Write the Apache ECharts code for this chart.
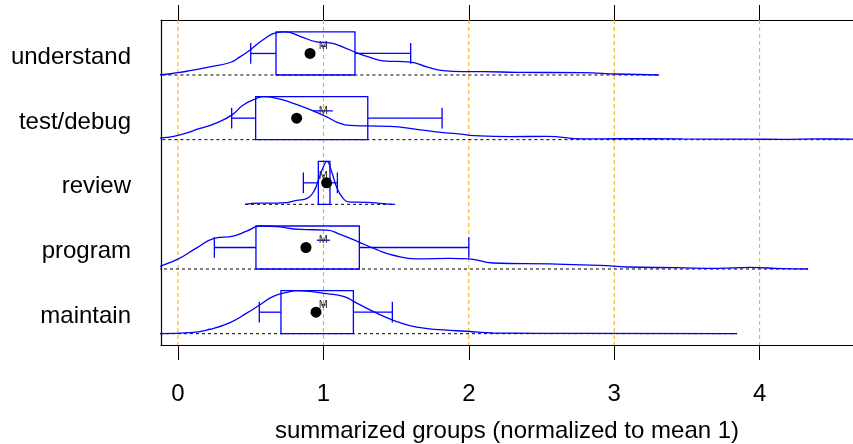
<!DOCTYPE html>
<html><head><meta charset="utf-8">
<script src="https://cdn.jsdelivr.net/npm/echarts@6/dist/echarts.min.js"></script>
<style>html,body{margin:0;padding:0;background:#fff}#c{width:853px;height:444px}</style>
</head><body><div id="c"></div>
<script>
// Groups, bottom to top
const categories = ['maintain', 'program', 'review', 'test/debug', 'understand'];
const xTicks = [0, 1, 2, 3, 4];

// Box statistics (normalized to mean 1)
const q1 = [0.708, 0.536, 0.965, 0.534, 0.674];
const q3 = [1.206, 1.247, 1.045, 1.305, 1.217];
const whiskerLow = [0.559, 0.25, 0.862, 0.369, 0.50];
const whiskerHigh = [1.474, 2.0, 1.096, 1.816, 1.60];
const medians = [0.949, 0.88, 1.022, 0.816, 0.908];
const groupMean = [1, 1, 1, 1, 1];
const meanCiLow = [0.985, 0.955, 0.995, 0.93, 0.98];
const meanCiHigh = [1.015, 1.045, 1.005, 1.065, 1.02];

// Density curves (relative density, peak = 1)
const maintainX = [-0.124, 0.083, 0.22, 0.358, 0.472, 0.564, 0.655, 0.748, 0.816, 0.908, 1.023, 1.137, 1.229, 1.367, 1.504, 1.642, 1.825, 1.986, 2.166, 2.785, 3.845];
const maintainD = [0, 0.023, 0.103, 0.258, 0.478, 0.672, 0.867, 0.96, 1, 0.984, 0.93, 0.867, 0.712, 0.478, 0.281, 0.15, 0.087, 0.056, 0.016, 0.007, 0];
const programX = [-0.179, -0.124, 0.002, 0.129, 0.25, 0.38, 0.472, 0.564, 0.679, 0.839, 1.023, 1.114, 1.229, 1.367, 1.481, 1.642, 1.871, 2.001, 2.166, 2.558, 2.902, 3.088, 3.432, 3.707, 3.934, 4.161, 4.333];
const programD = [0, 0.061, 0.235, 0.49, 0.71, 0.765, 0.88, 1, 0.985, 0.92, 0.905, 0.805, 0.65, 0.45, 0.32, 0.235, 0.245, 0.235, 0.14, 0.117, 0.085, 0.047, 0.03, 0.016, 0.038, 0.007, 0];
const reviewX = [0.461, 0.564, 0.679, 0.748, 0.816, 0.885, 0.931, 0.965, 0.999, 1.023, 1.057, 1.091, 1.137, 1.183, 1.298, 1.412, 1.492];
const reviewD = [0, 0.03, 0.03, 0.04, 0.093, 0.133, 0.286, 0.558, 0.867, 1, 0.75, 0.40, 0.133, 0.053, 0.047, 0.016, 0];
const testDebugX = [-0.19, -0.117, 0, 0.151, 0.266, 0.369, 0.449, 0.541, 0.587, 0.679, 0.793, 0.908, 1.023, 1.091, 1.183, 1.298, 1.458, 1.642, 1.825, 1.962, 2.008, 2.283, 2.536, 2.785, 3.019, 3.473, 3.934, 4.161, 4.395, 4.642, 4.8];
const testDebugD = [0.012, 0.038, 0.10, 0.26, 0.39, 0.57, 0.805, 0.96, 1, 0.96, 0.845, 0.70, 0.53, 0.41, 0.33, 0.32, 0.31, 0.24, 0.165, 0.125, 0.10, 0.07, 0.077, 0.016, 0.023, 0.016, 0.012, 0.007, 0.016, 0.012, 0];
const understandX = [-0.19, -0.117, 0, 0.083, 0.22, 0.358, 0.426, 0.495, 0.585, 0.679, 0.736, 0.839, 0.954, 1.045, 1.135, 1.229, 1.32, 1.41, 1.596, 1.71, 1.823, 1.96, 2.098, 2.33, 2.785, 3.02, 3.308];
const understandD = [0, 0.007, 0.053, 0.10, 0.19, 0.29, 0.42, 0.58, 0.82, 0.985, 1, 0.90, 0.77, 0.745, 0.65, 0.515, 0.41, 0.33, 0.30, 0.19, 0.10, 0.076, 0.076, 0.062, 0.053, 0.023, 0];

const densX = [maintainX, programX, reviewX, testDebugX, understandX];
const densD = [maintainD, programD, reviewD, testDebugD, understandD];

// Style constants
const ROW = 0.665;      // box / density height in row units
const CAP = 0.16;       // whisker cap half-height
const M_OFF = 0.445;    // vertical offset of mean label
const LABEL_OFF = 0.27; // vertical offset of group labels
const BLUE = '#0000ff';
const FONT = 'Liberation Sans, Arial, Helvetica, sans-serif';

const chart = echarts.init(document.getElementById('c'), null, {renderer: 'canvas'});

const series = [];

// orange vertical reference lines
series.push({
  type: 'custom', z: 1, silent: true,
  data: xTicks.map(v => [v]),
  encode: {x: 0},
  renderItem(params, api) {
    const x = api.coord([api.value(0), 0])[0];
    const cs = params.coordSys;
    return {type: 'line', shape: {x1: x, y1: cs.y, x2: x, y2: cs.y + cs.height},
      style: {stroke: '#FFA500', lineWidth: 1, lineDash: [4, 3]}};
  }
});

categories.forEach((c, i) => {
  const xs = densX[i], ds = densD[i];
  // dotted baseline
  series.push({
    type: 'line', z: 2, silent: true, symbol: 'none', clip: true,
    data: [[xs[0], i], [xs[xs.length - 1], i]],
    lineStyle: {color: '#000', width: 1, type: [3, 3]}
  });
  // density curve
  series.push({
    type: 'line', z: 3, silent: true, symbol: 'none', clip: true,
    smooth: 0.5,
    data: xs.map((x, k) => [x, i + ROW * ds[k]]),
    lineStyle: {color: BLUE, width: 1.3}
  });
});

// boxes and whiskers
series.push({
  type: 'custom', z: 4, silent: true,
  data: categories.map((c, i) => [i, q1[i], q3[i], whiskerLow[i], whiskerHigh[i]]),
  encode: {x: [1, 2, 3, 4], y: 0},
  renderItem(params, api) {
    const i = api.value(0);
    const a = api.coord([api.value(1), i]);
    const b = api.coord([api.value(2), i + ROW]);
    const yMid = api.coord([0, i + ROW / 2])[1];
    const cT = api.coord([0, i + ROW / 2 + CAP])[1];
    const cB = api.coord([0, i + ROW / 2 - CAP])[1];
    const xl = api.coord([api.value(3), i])[0];
    const xh = api.coord([api.value(4), i])[0];
    const st = {stroke: BLUE, lineWidth: 1.3, fill: 'none'};
    return {type: 'group', children: [
      {type: 'rect', shape: {x: a[0], y: b[1], width: b[0] - a[0], height: a[1] - b[1]}, style: st},
      {type: 'line', shape: {x1: xl, y1: yMid, x2: a[0], y2: yMid}, style: st},
      {type: 'line', shape: {x1: b[0], y1: yMid, x2: xh, y2: yMid}, style: st},
      {type: 'line', shape: {x1: xl, y1: cT, x2: xl, y2: cB}, style: st},
      {type: 'line', shape: {x1: xh, y1: cT, x2: xh, y2: cB}, style: st}
    ]};
  }
});

// mean markers "M"
series.push({
  type: 'custom', z: 5, silent: true,
  data: categories.map((c, i) => [i, groupMean[i], meanCiLow[i], meanCiHigh[i]]),
  encode: {x: [1, 2, 3], y: 0},
  renderItem(params, api) {
    const i = api.value(0);
    const p = api.coord([api.value(1), i + M_OFF]);
    const xl = api.coord([api.value(2), i])[0];
    const xh = api.coord([api.value(3), i])[0];
    return {type: 'group', children: [
      {type: 'line', shape: {x1: xl, y1: p[1], x2: xh, y2: p[1]}, style: {stroke: BLUE, lineWidth: 1.3}},
      {type: 'text', x: p[0], y: p[1], style: {text: 'M', align: 'center', verticalAlign: 'middle',
        fontSize: 11, fontFamily: FONT, fill: '#333'}}
    ]};
  }
});

// median dots
series.push({
  type: 'scatter', z: 6, silent: true,
  symbol: 'circle', symbolSize: 11,
  itemStyle: {color: '#000', opacity: 1},
  data: categories.map((c, i) => [medians[i], i + ROW / 2])
});

chart.setOption({
  animation: false,
  backgroundColor: '#fff',
  grid: {left: 161, right: 0, top: 20, bottom: 99, containLabel: false, outerBoundsMode: 'none'},
  xAxis: [{
    type: 'value', position: 'bottom', min: -0.117, max: 4.642,
    axisLine: {show: true, onZero: false, lineStyle: {color: '#000', width: 1.2}},
    axisTick: {show: true, inside: false, length: 15, customValues: xTicks, lineStyle: {color: '#000', width: 1}},
    axisLabel: {show: true, customValues: xTicks, margin: 37, fontSize: 24, fontFamily: FONT, color: '#000'},
    splitLine: {show: false},
    name: 'summarized groups (normalized to mean 1)', nameLocation: 'middle', nameGap: 74,
    nameTextStyle: {fontSize: 24, fontFamily: FONT, color: '#000'}
  }, {
    type: 'value', position: 'top', min: -0.117, max: 4.642,
    axisLine: {show: true, onZero: false, lineStyle: {color: '#000', width: 1.2}},
    axisTick: {show: true, inside: false, length: 15, customValues: xTicks, lineStyle: {color: '#000', width: 1}},
    axisLabel: {show: false},
    splitLine: {show: false}
  }],
  yAxis: {
    type: 'value', min: -0.175, max: 4.85,
    axisLine: {show: true, onZero: false, lineStyle: {color: '#000', width: 1.2}},
    axisTick: {show: false},
    splitLine: {show: false},
    axisLabel: {
      show: true, margin: 30, fontSize: 24, fontFamily: FONT, color: '#000',
      customValues: categories.map((c, i) => i + LABEL_OFF),
      formatter: v => categories[Math.round(v - LABEL_OFF)] || ''
    }
  },
  series: series
});
</script>
</body></html>
